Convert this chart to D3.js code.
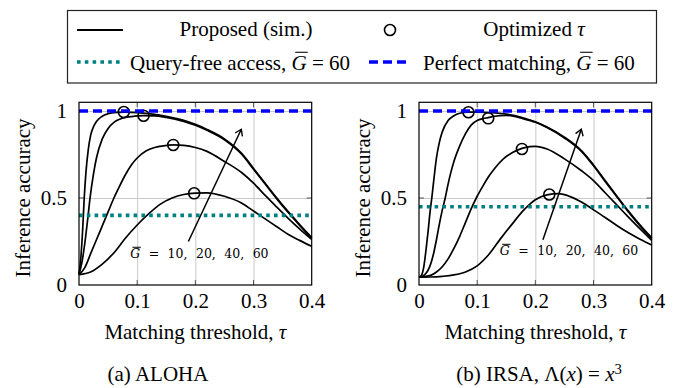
<!DOCTYPE html>
<html>
<head>
<meta charset="utf-8">
<script src="https://cdn.jsdelivr.net/npm/d3@7"></script>
<style>
  body { margin: 0; background: #fff; }
  svg text { font-family: "Liberation Serif", "Times New Roman", serif; fill: #000; }
</style>
</head>
<body>
<svg id="chart" width="678" height="388"></svg>
<script>
// ---- data: [tau, inference accuracy] ----
const tauTicks = [0, 0.1, 0.2, 0.3, 0.4];
const accTicks = [0, 0.5, 1];
const loads = [10, 20, 40, 60];

const alohaG10 = [[0,0.06],[0.02,0.075],[0.04,0.12],[0.06,0.185],[0.08,0.27],[0.1,0.345],[0.12,0.41],[0.14,0.465],[0.16,0.5],[0.18,0.52],[0.2,0.528],[0.22,0.53],[0.25,0.51],[0.28,0.47],[0.3,0.425],[0.32,0.38],[0.34,0.335],[0.36,0.29],[0.38,0.255],[0.4,0.222]];
const alohaG20 = [[0,0.06],[0.01,0.1],[0.02,0.18],[0.03,0.26],[0.04,0.34],[0.05,0.42],[0.06,0.5],[0.07,0.57],[0.08,0.635],[0.09,0.69],[0.1,0.73],[0.115,0.77],[0.13,0.79],[0.145,0.8],[0.162,0.805],[0.18,0.802],[0.2,0.79],[0.22,0.768],[0.25,0.71],[0.28,0.645],[0.3,0.585],[0.32,0.515],[0.34,0.448],[0.36,0.382],[0.38,0.32],[0.4,0.262]];
const alohaG40 = [[0,0.06],[0.005,0.13],[0.01,0.24],[0.015,0.38],[0.019,0.5],[0.025,0.64],[0.03,0.73],[0.04,0.84],[0.05,0.9],[0.06,0.935],[0.07,0.953],[0.08,0.963],[0.095,0.97],[0.11,0.973],[0.13,0.972],[0.15,0.963],[0.18,0.94],[0.2,0.918],[0.22,0.889],[0.25,0.835],[0.28,0.75],[0.3,0.665],[0.32,0.58],[0.34,0.495],[0.36,0.415],[0.38,0.34],[0.4,0.268]];
const alohaG60 = [[0,0.06],[0.003,0.15],[0.006,0.3],[0.009,0.5],[0.012,0.65],[0.016,0.78],[0.02,0.86],[0.025,0.91],[0.03,0.94],[0.04,0.97],[0.05,0.984],[0.065,0.992],[0.08,0.994],[0.1,0.991],[0.12,0.985],[0.15,0.97],[0.18,0.946],[0.2,0.923],[0.22,0.894],[0.25,0.84],[0.28,0.755],[0.3,0.67],[0.32,0.585],[0.34,0.5],[0.36,0.42],[0.38,0.345],[0.4,0.272]];
const alohaOpt = [[0.198,0.527],[0.162,0.805],[0.111,0.973],[0.077,0.994]];
const alohaQueryFree = 0.4;

const irsaG10 = [[0,0.045],[0.02,0.046],[0.04,0.05],[0.06,0.058],[0.08,0.075],[0.1,0.11],[0.12,0.175],[0.14,0.265],[0.16,0.35],[0.18,0.43],[0.2,0.49],[0.22,0.518],[0.24,0.525],[0.26,0.508],[0.28,0.475],[0.3,0.432],[0.32,0.388],[0.34,0.342],[0.36,0.3],[0.38,0.263],[0.4,0.23]];
const irsaG20 = [[0,0.045],[0.02,0.055],[0.03,0.075],[0.04,0.105],[0.05,0.15],[0.06,0.21],[0.07,0.28],[0.08,0.36],[0.09,0.44],[0.1,0.51],[0.11,0.57],[0.12,0.625],[0.13,0.67],[0.145,0.725],[0.16,0.76],[0.177,0.785],[0.19,0.795],[0.2,0.797],[0.22,0.782],[0.25,0.725],[0.28,0.655],[0.3,0.6],[0.32,0.53],[0.34,0.46],[0.36,0.39],[0.38,0.322],[0.4,0.257]];
const irsaG40 = [[0,0.045],[0.01,0.06],[0.02,0.12],[0.025,0.18],[0.03,0.26],[0.035,0.35],[0.04,0.43],[0.045,0.5],[0.05,0.58],[0.055,0.65],[0.06,0.71],[0.07,0.8],[0.08,0.87],[0.09,0.92],[0.1,0.945],[0.11,0.956],[0.119,0.962],[0.13,0.97],[0.15,0.975],[0.18,0.955],[0.2,0.935],[0.22,0.905],[0.25,0.845],[0.28,0.765],[0.3,0.685],[0.32,0.595],[0.34,0.507],[0.36,0.42],[0.38,0.34],[0.4,0.268]];
const irsaG60 = [[0,0.045],[0.004,0.055],[0.008,0.1],[0.012,0.2],[0.016,0.32],[0.019,0.42],[0.022,0.5],[0.026,0.62],[0.03,0.73],[0.035,0.82],[0.04,0.88],[0.05,0.945],[0.06,0.973],[0.07,0.987],[0.085,0.993],[0.1,0.994],[0.12,0.991],[0.15,0.982],[0.18,0.96],[0.2,0.938],[0.22,0.908],[0.25,0.85],[0.28,0.77],[0.3,0.69],[0.32,0.6],[0.34,0.512],[0.36,0.425],[0.38,0.345],[0.4,0.272]];
const irsaOpt = [[0.224,0.52],[0.177,0.782],[0.119,0.958],[0.085,0.993]];
const irsaQueryFree = 0.45;

const perfectMatching = 1;

const panels = [
  { left: 79, series: [alohaG10, alohaG20, alohaG40, alohaG60], opt: alohaOpt, queryFree: alohaQueryFree,
    arrow: [[0.188, 0.25], [0.279, 0.895]], label: [0.088, 0.158], yTitleX: 25,
    caption: { x: 158, parts: [{ t: "(a) ALOHA" }] } },
  { left: 419, series: [irsaG10, irsaG20, irsaG40, irsaG60], opt: irsaOpt, queryFree: irsaQueryFree,
    arrow: [[0.213, 0.26], [0.279, 0.895]], label: [0.139, 0.175], yTitleX: 365,
    caption: { x: 539, parts: [{ t: "(b) IRSA, Λ(" }, { t: "x", i: true }, { t: ") = " }, { t: "x", i: true }, { t: "3", sup: true }] } }
];

const plotW = 232.7, plotTop = 102.3, plotBottom = 285;
const teal = "#008080", blue = "#0000ff";

const svg = d3.select("#chart");

svg.append("defs").append("marker")
  .attr("id", "arrow")
  .attr("viewBox", "-8 -5 10 10")
  .attr("refX", 0).attr("refY", 0)
  .attr("markerWidth", 10).attr("markerHeight", 10)
  .attr("markerUnits", "userSpaceOnUse")
  .attr("orient", "auto")
  .append("path")
  .attr("d", "M-6,-4 L0,0 L-6,4")
  .attr("fill", "none").attr("stroke", "#000").attr("stroke-width", 1.4);

// text with italic / overlined / superscript pieces
function rich(x, y, parts, opts = {}) {
  const size = opts.size || 21;
  const t = svg.append("text")
    .attr("x", x).attr("y", y)
    .attr("font-size", size)
    .attr("text-anchor", opts.anchor || "start");
  if (opts.family) t.style("font-family", opts.family);
  if (opts.wordSpacing) t.style("word-spacing", opts.wordSpacing + "px");
  const overs = [];
  parts.forEach(p => {
    const s = t.append("tspan").text(p.t);
    if (p.i || p.ov) s.style("font-style", "italic");
    if (p.sup) s.attr("dy", "-0.45em").attr("font-size", size * 0.7);
    if (p.ov) overs.push(s);
  });
  overs.forEach(s => {
    const b = s.node().getBBox();
    svg.append("line")
      .attr("x1", b.x + size * 0.18).attr("x2", b.x + b.width + size * 0.05)
      .attr("y1", y - size * 0.82).attr("y2", y - size * 0.82)
      .attr("stroke", "#000").attr("stroke-width", Math.max(1, size * 0.05));
  });
  return t;
}

panels.forEach(p => {
  const x = d3.scaleLinear().domain([0, 0.4]).range([p.left, p.left + plotW]);
  const y = d3.scaleLinear().domain([0, 1.05]).range([plotBottom, plotTop]);

  // grid
  svg.append("g")
    .attr("transform", `translate(0,${plotBottom})`)
    .call(d3.axisBottom(x).tickValues(tauTicks.slice(1, -1)).tickSize(-(plotBottom - plotTop)).tickFormat(""))
    .call(g => g.select(".domain").remove())
    .call(g => g.selectAll("line").attr("stroke", "#c8c8c8"));
  svg.append("g")
    .attr("transform", `translate(${p.left},0)`)
    .call(d3.axisLeft(y).tickValues(accTicks.slice(1)).tickSize(-plotW).tickFormat(""))
    .call(g => g.select(".domain").remove())
    .call(g => g.selectAll("line").attr("stroke", "#c8c8c8"));

  // small inner ticks
  tauTicks.slice(1, -1).forEach(v => {
    [[plotBottom, plotBottom - 5], [plotTop, plotTop + 5]].forEach(([a, b]) =>
      svg.append("line").attr("x1", x(v)).attr("x2", x(v)).attr("y1", a).attr("y2", b)
        .attr("stroke", "#555"));
  });
  accTicks.slice(1).forEach(v => {
    [[p.left, p.left + 5], [p.left + plotW, p.left + plotW - 5]].forEach(([a, b]) =>
      svg.append("line").attr("y1", y(v)).attr("y2", y(v)).attr("x1", a).attr("x2", b)
        .attr("stroke", "#555"));
  });

  // curves
  const line = d3.line().x(d => x(d[0])).y(d => y(d[1])).curve(d3.curveMonotoneX);
  svg.append("g").selectAll("path")
    .data(p.series)
    .join("path")
    .attr("d", line)
    .attr("fill", "none")
    .attr("stroke", "#000")
    .attr("stroke-width", 1.7);

  svg.append("g").selectAll("circle")
    .data(p.opt)
    .join("circle")
    .attr("cx", d => x(d[0]))
    .attr("cy", d => y(d[1]))
    .attr("r", 5.5)
    .attr("fill", "none")
    .attr("stroke", "#000")
    .attr("stroke-width", 1.6);

  // reference levels
  svg.append("line")
    .attr("x1", x(0)).attr("x2", x(0.4))
    .attr("y1", y(p.queryFree)).attr("y2", y(p.queryFree))
    .attr("stroke", teal).attr("stroke-width", 3.6)
    .attr("stroke-dasharray", "3.6,4.2");
  svg.append("line")
    .attr("x1", x(0)).attr("x2", x(0.4))
    .attr("y1", y(perfectMatching)).attr("y2", y(perfectMatching))
    .attr("stroke", blue).attr("stroke-width", 3.6)
    .attr("stroke-dasharray", "9,5");

  // arrow + load label
  svg.append("line")
    .attr("x1", x(p.arrow[0][0])).attr("y1", y(p.arrow[0][1]))
    .attr("x2", x(p.arrow[1][0])).attr("y2", y(p.arrow[1][1]))
    .attr("stroke", "#000").attr("stroke-width", 1.5)
    .attr("marker-end", "url(#arrow)");

  rich(x(p.label[0]), y(p.label[1]),
    [{ t: "G", ov: true }, { t: " = " + loads.join(", ") }],
    { size: 12.5, family: "'DejaVu Serif', serif", wordSpacing: 4.5 });

  // frame
  svg.append("rect")
    .attr("x", p.left).attr("y", plotTop)
    .attr("width", plotW).attr("height", plotBottom - plotTop)
    .attr("fill", "none").attr("stroke", "#000").attr("stroke-width", 1.2);

  // tick labels
  svg.append("g")
    .attr("transform", `translate(0,${plotBottom})`)
    .call(d3.axisBottom(x).tickValues(tauTicks).tickSize(0).tickPadding(8).tickFormat(d => String(d)))
    .call(g => g.select(".domain").remove())
    .call(g => g.attr("font-family", null).attr("font-size", 21));
  svg.append("g")
    .attr("transform", `translate(${p.left},0)`)
    .call(d3.axisLeft(y).tickValues(accTicks).tickSize(0).tickPadding(12).tickFormat(d => String(d)))
    .call(g => g.select(".domain").remove())
    .call(g => g.attr("font-family", null).attr("font-size", 21));

  // titles
  svg.append("text")
    .attr("transform", `translate(${p.yTitleX},198) rotate(-90)`)
    .attr("dy", "0.23em")
    .attr("text-anchor", "middle")
    .attr("font-size", 21)
    .text("Inference accuracy");
  rich(p.left + plotW / 2, 339, [{ t: "Matching threshold, " }, { t: "τ", i: true }], { anchor: "middle" });
  rich(p.caption.x, 381, p.caption.parts, { anchor: "middle" });
});

// ---- legend ----
svg.append("rect")
  .attr("x", 67.5).attr("y", 10.5).attr("width", 589).attr("height", 72.5)
  .attr("fill", "#fff").attr("stroke", "#222").attr("stroke-width", 1.2);

svg.append("line").attr("x1", 77).attr("x2", 123).attr("y1", 30).attr("y2", 30)
  .attr("stroke", "#000").attr("stroke-width", 1.8);
rich(246, 36, [{ t: "Proposed (sim.)" }], { anchor: "middle" });
svg.append("circle").attr("cx", 390).attr("cy", 30).attr("r", 5.5)
  .attr("fill", "none").attr("stroke", "#000").attr("stroke-width", 1.6);
rich(534, 36, [{ t: "Optimized " }, { t: "τ", i: true }], { anchor: "middle" });

svg.append("line").attr("x1", 77).attr("x2", 121).attr("y1", 62).attr("y2", 62)
  .attr("stroke", teal).attr("stroke-width", 3.6).attr("stroke-dasharray", "3.6,4.2");
rich(130, 69.5, [{ t: "Query-free access, " }, { t: "G", ov: true }, { t: " = 60" }]);
svg.append("line").attr("x1", 369).attr("x2", 411).attr("y1", 62).attr("y2", 62)
  .attr("stroke", blue).attr("stroke-width", 3.6).attr("stroke-dasharray", "9,5");
rich(423, 69.5, [{ t: "Perfect matching, " }, { t: "G", ov: true }, { t: " = 60" }]);
</script>
</body>
</html>
